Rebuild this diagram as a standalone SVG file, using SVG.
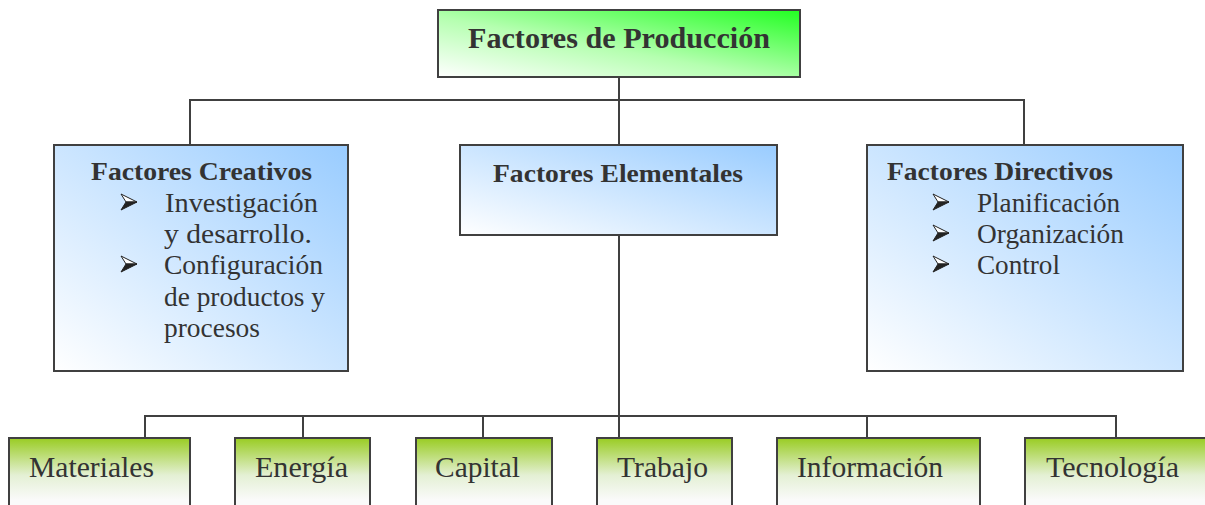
<svg xmlns="http://www.w3.org/2000/svg" width="1205" height="505" viewBox="0 0 1205 505">
<defs>
<linearGradient id="gTop" x1="1" y1="0" x2="0" y2="1">
<stop offset="0" stop-color="#22ff22"/>
<stop offset="0.55" stop-color="#b5ffb0"/>
<stop offset="1" stop-color="#ffffff"/>
</linearGradient>
<linearGradient id="gBlue" x1="1" y1="0" x2="0" y2="1">
<stop offset="0" stop-color="#99ccff"/>
<stop offset="1" stop-color="#ffffff"/>
</linearGradient>
<linearGradient id="gLeaf" gradientUnits="userSpaceOnUse" x1="0" y1="438" x2="0" y2="500">
<stop offset="0" stop-color="#99cc22"/>
<stop offset="0.6" stop-color="#e4f0d4"/>
<stop offset="1" stop-color="#fafafa"/>
</linearGradient>
<g id="bul">
<path d="M0,0 L16,8 L5,8 Z" fill="#ffffff" stroke="#222222" stroke-width="1" stroke-linejoin="miter"/>
<path d="M5,8 L16,8 L0,16 Z" fill="#222222" stroke="#222222" stroke-width="1"/>
</g>
<style>
.box{stroke:#404040;stroke-width:2}
.con{stroke:#404040;stroke-width:2;fill:none}
text.t{font-family:'Liberation Serif','Times New Roman',Times,serif;fill:#333333}
text.b{font-weight:bold}
</style>
</defs>
<g id="connectors">
<path class="con" d="M619,77 V100 M190,145 V100 H1024 V145 M619,100 V145"/>
<path class="con" d="M619,235 V438 M145,438 V416 H1116 V438 M303,416 V438 M483,416 V438 M867,416 V438"/>
</g>
<g id="n-produccion">
<rect class="box" x="438" y="10" width="362" height="67" fill="url(#gTop)"/>
<text class="t b" x="468" y="48" font-size="30" textLength="302" lengthAdjust="spacingAndGlyphs">Factores de Producción</text>
</g>
<g id="n-creativos">
<rect class="box" x="54" y="145" width="294" height="226" fill="url(#gBlue)"/>
<text class="t b" x="91" y="180" font-size="26" textLength="221" lengthAdjust="spacingAndGlyphs">Factores Creativos</text>
<use href="#bul" x="121" y="194"/>
<text class="t" x="165" y="212" font-size="27" textLength="153" lengthAdjust="spacingAndGlyphs">Investigación</text>
<text class="t" x="164" y="243" font-size="27" textLength="148" lengthAdjust="spacingAndGlyphs">y desarrollo.</text>
<use href="#bul" x="121" y="256"/>
<text class="t" x="164" y="274" font-size="27" textLength="159" lengthAdjust="spacingAndGlyphs">Configuración</text>
<text class="t" x="164" y="306" font-size="27" textLength="161" lengthAdjust="spacingAndGlyphs">de productos y</text>
<text class="t" x="164" y="337" font-size="27" textLength="96" lengthAdjust="spacingAndGlyphs">procesos</text>
</g>
<g id="n-elementales">
<rect class="box" x="460" y="145" width="317" height="90" fill="url(#gBlue)"/>
<text class="t b" x="493" y="182" font-size="26" textLength="250" lengthAdjust="spacingAndGlyphs">Factores Elementales</text>
</g>
<g id="n-directivos">
<rect class="box" x="867" y="145" width="316" height="226" fill="url(#gBlue)"/>
<text class="t b" x="887" y="180" font-size="26" textLength="226" lengthAdjust="spacingAndGlyphs">Factores Directivos</text>
<use href="#bul" x="933" y="194"/>
<text class="t" x="977" y="212" font-size="27" textLength="143" lengthAdjust="spacingAndGlyphs">Planificación</text>
<use href="#bul" x="933" y="225"/>
<text class="t" x="977" y="243" font-size="27" textLength="147" lengthAdjust="spacingAndGlyphs">Organización</text>
<use href="#bul" x="933" y="256"/>
<text class="t" x="977" y="274" font-size="27" textLength="83" lengthAdjust="spacingAndGlyphs">Control</text>
</g>
<g id="n-materiales">
<rect class="box" x="9" y="438" width="181" height="90" fill="url(#gLeaf)"/>
<text class="t" x="29" y="477" font-size="30" textLength="125" lengthAdjust="spacingAndGlyphs">Materiales</text>
</g>
<g id="n-energia">
<rect class="box" x="235" y="438" width="135" height="90" fill="url(#gLeaf)"/>
<text class="t" x="255" y="477" font-size="30" textLength="93" lengthAdjust="spacingAndGlyphs">Energía</text>
</g>
<g id="n-capital">
<rect class="box" x="416" y="438" width="136" height="90" fill="url(#gLeaf)"/>
<text class="t" x="435" y="477" font-size="30" textLength="85" lengthAdjust="spacingAndGlyphs">Capital</text>
</g>
<g id="n-trabajo">
<rect class="box" x="597" y="438" width="135" height="90" fill="url(#gLeaf)"/>
<text class="t" x="617" y="477" font-size="30" textLength="91" lengthAdjust="spacingAndGlyphs">Trabajo</text>
</g>
<g id="n-informacion">
<rect class="box" x="777" y="438" width="203" height="90" fill="url(#gLeaf)"/>
<text class="t" x="797" y="477" font-size="30" textLength="146" lengthAdjust="spacingAndGlyphs">Información</text>
</g>
<g id="n-tecnologia">
<rect class="box" x="1025" y="438" width="200" height="90" fill="url(#gLeaf)"/>
<text class="t" x="1046" y="477" font-size="30" textLength="133" lengthAdjust="spacingAndGlyphs">Tecnología</text>
</g>
</svg>
